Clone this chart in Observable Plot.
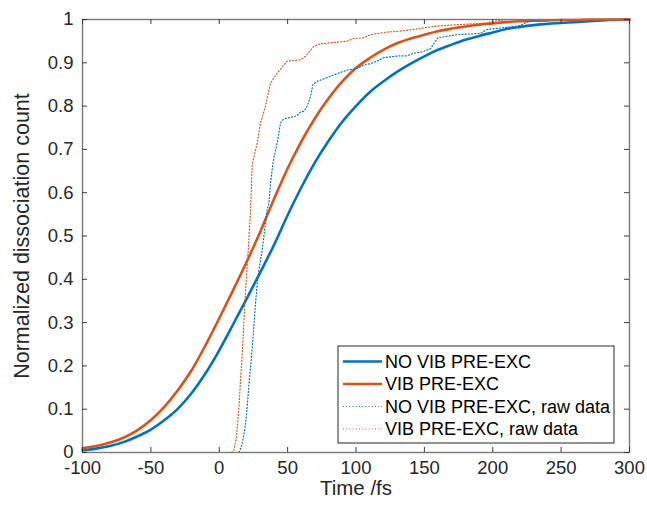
<!DOCTYPE html>
<html>
<head>
<meta charset="utf-8">
<script src="https://cdn.jsdelivr.net/npm/d3@7"></script>
<script src="https://cdn.jsdelivr.net/npm/@observablehq/plot@0.6"></script>
<style>
  html, body { margin: 0; padding: 0; background: #fff; }
  #chart { width: 647px; height: 508px; }
  svg { font-family: "Liberation Sans", Arial, Helvetica, sans-serif; }
</style>
</head>
<body>
<div id="chart"></div>
<script>
// ---- data ----
const seriesNames = ["NO VIB PRE-EXC", "VIB PRE-EXC", "NO VIB PRE-EXC, raw data", "VIB PRE-EXC, raw data"];
const seriesColors = ["#0072BD", "#D95319", "#0072BD", "#D95319"];

const timeSmooth = [-100,-90,-80,-70,-60,-50,-40,-30,-20,-10,0,10,20,30,40,50,60,70,80,90,100,110,120,130,140,150,160,170,180,190,200,210,220,230,240,250,260,270,280,290,300];
const noVibFit = [0.005,0.009,0.015,0.024,0.037,0.053,0.075,0.102,0.138,0.183,0.236,0.295,0.355,0.416,0.479,0.548,0.612,0.670,0.720,0.764,0.800,0.832,0.857,0.879,0.898,0.915,0.930,0.942,0.953,0.962,0.970,0.978,0.983,0.987,0.990,0.992,0.994,0.996,0.998,0.999,1.000];
const vibFit = [0.010,0.015,0.023,0.034,0.051,0.075,0.106,0.145,0.191,0.248,0.310,0.374,0.440,0.510,0.585,0.656,0.718,0.772,0.818,0.857,0.888,0.911,0.930,0.945,0.956,0.965,0.973,0.979,0.984,0.988,0.991,0.994,0.996,0.997,0.998,0.999,0.999,1.0,1.0,1.0,1.0];

const noVibRawTime = [10,14.5,16.8,18.5,19.9,21.6,24.1,26.5,27.8,29,31.4,32.6,35,36.3,37.5,39.4,42.4,44.8,47,49.7,57,59.4,62,64.3,66.7,68.5,71.6,74,81.4,88,93.5,100.8,106,110.6,116,120.4,131.3,137,142.3,148,154.5,157,160,174,191,196,210,220,227.6,240,300];
const noVibRaw = [0,0,0.02,0.05,0.086,0.151,0.24,0.344,0.39,0.421,0.468,0.498,0.56,0.576,0.622,0.672,0.715,0.761,0.77,0.772,0.778,0.786,0.788,0.80,0.822,0.85,0.857,0.86,0.869,0.877,0.883,0.887,0.895,0.898,0.905,0.912,0.916,0.916,0.922,0.925,0.932,0.945,0.958,0.965,0.968,0.977,0.982,0.986,0.998,1.0,1.0];

const vibRawTime = [2,9,10.7,12.6,14.3,15.5,16.8,19.2,21.2,22.9,24.1,26,27.8,30.2,33.8,37.5,42.4,49.7,57,59.4,63.1,69.2,74,93.5,98.4,105.7,110.6,122.8,131.3,142,159.4,174,196,200.8,210,300];
const vibRaw = [0,0,0.005,0.035,0.1,0.163,0.225,0.375,0.468,0.56,0.664,0.691,0.715,0.761,0.8,0.853,0.876,0.904,0.906,0.907,0.915,0.938,0.944,0.95,0.956,0.958,0.965,0.971,0.973,0.977,0.985,0.988,0.992,0.996,1.0,1.0];

const xTicks = [-100,-50,0,50,100,150,200,250,300];
const yTicks = [0,0.1,0.2,0.3,0.4,0.5,0.6,0.7,0.8,0.9,1];
const xLabel = "Time /fs";
const yLabel = "Normalized dissociation count";

// ---- build tables ----
const fitNoVib = timeSmooth.map((t, i) => ({t, v: noVibFit[i]}));
const fitVib = timeSmooth.map((t, i) => ({t, v: vibFit[i]}));
const rawNoVib = noVibRawTime.map((t, i) => ({t, v: noVibRaw[i]}));
const rawVib = vibRawTime.map((t, i) => ({t, v: vibRaw[i]}));

const W = 647, H = 508;
const mL = 82, mR = 18, mT = 19, mB = 56;
const fw = W - mL - mR, fh = H - mT - mB;
const ink = "#262626";
const dotted = "1,2.2";

const plot = Plot.plot({
  width: W, height: H,
  marginLeft: mL, marginRight: mR, marginTop: mT, marginBottom: mB,
  style: {fontFamily: '"Liberation Sans", Arial, sans-serif', color: ink, background: "#fff"},
  x: {domain: [-100, 300]},
  y: {domain: [0, 1]},
  marks: [
    Plot.axisX({ticks: xTicks, tickSize: 0, tickPadding: 8, tickFormat: d => String(d), fontSize: 18.5, label: null}),
    Plot.axisY({ticks: yTicks, tickSize: 0, tickPadding: 9, tickFormat: d => String(d), fontSize: 18.5, label: null}),
    Plot.line(fitNoVib, {x: "t", y: "v", stroke: seriesColors[0], strokeWidth: 2.6, curve: "monotone-x"}),
    Plot.line(fitVib, {x: "t", y: "v", stroke: seriesColors[1], strokeWidth: 2.6, curve: "monotone-x"}),
    Plot.line(rawNoVib, {x: "t", y: "v", stroke: seriesColors[2], strokeWidth: 1.2, strokeDasharray: dotted}),
    Plot.line(rawVib, {x: "t", y: "v", stroke: seriesColors[3], strokeWidth: 1.2, strokeDasharray: dotted}),
    Plot.frame({stroke: "#7a7a7a", strokeWidth: 1.4}),
    Plot.tickX(xTicks, {x: d => d, stroke: "#3a3a3a", insetTop: fh - 5}),
    Plot.tickX(xTicks, {x: d => d, stroke: "#3a3a3a", insetBottom: fh - 5}),
    Plot.tickY(yTicks, {y: d => d, stroke: "#3a3a3a", insetRight: fw - 5}),
    Plot.tickY(yTicks, {y: d => d, stroke: "#3a3a3a", insetLeft: fw - 5}),
    Plot.text([xLabel], {frameAnchor: "bottom", dy: 42.5, fontSize: 20.5, fill: ink, text: d => d, textAnchor: "middle"}),
    Plot.text([yLabel], {frameAnchor: "left", dx: -60, rotate: -90, fontSize: 21.5, fill: ink, text: d => d, textAnchor: "middle"})
  ]
});

// ---- legend drawn inside the axes ----
const svg = d3.select(plot);
const lg = svg.append("g").attr("text-anchor", "start");
const lx0 = 338, ly0 = 346, lx1 = 614, ly1 = 443;
lg.append("rect").attr("x", lx0).attr("y", ly0).attr("width", lx1 - lx0).attr("height", ly1 - ly0)
  .attr("fill", "#fff").attr("stroke", "#262626").attr("stroke-width", 1);
seriesNames.forEach((name, i) => {
  const cy = 361.5 + i * 22.5;
  lg.append("line").attr("x1", 343).attr("x2", 382).attr("y1", cy).attr("y2", cy)
    .attr("stroke", seriesColors[i]).attr("stroke-width", i < 2 ? 2.6 : 1.2)
    .attr("stroke-dasharray", i < 2 ? null : dotted);
  lg.append("text").attr("x", 385).attr("y", cy).attr("dy", "0.35em")
    .attr("text-anchor", "start")
    .attr("font-size", 18).attr("fill", "#000").text(name);
});

document.getElementById("chart").appendChild(plot);
</script>
</body>
</html>
